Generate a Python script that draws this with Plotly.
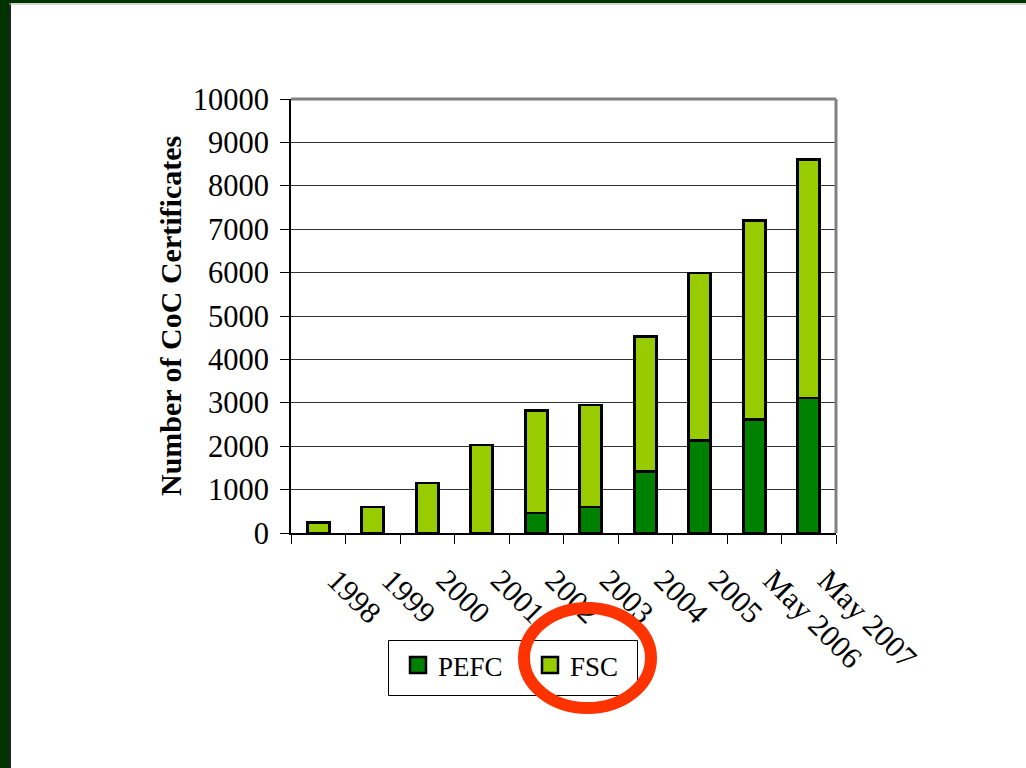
import plotly.graph_objects as go

# ---- data ----
categories = ["1998", "1999", "2000", "2001", "2002", "2003", "2004", "2005", "May 2006", "May 2007"]
pefc = [0, 0, 0, 0, 460, 600, 1410, 2140, 2610, 3110]
fsc = [250, 600, 1150, 2030, 2360, 2350, 3110, 3850, 4590, 5490]
series_names = ["PEFC", "FSC"]
series_colors = ["#008000", "#99CC00"]
y_title = "Number of CoC Certificates"
y_ticks = list(range(0, 10001, 1000))

W, H = 1026, 768
L, R, T, B = 291, 836, 99, 533  # plot area in pixels
PW, PH = R - L, B - T


def px(x):
    return (x - L) / PW


def py(y):
    return (B - y) / PH


FONT = "Liberation Serif, Times New Roman, serif"

fig = go.Figure()
for name, vals, col in zip(series_names, [pefc, fsc], series_colors):
    fig.add_trace(go.Bar(
        x=categories, y=vals, name=name,
        marker=dict(color=col, line=dict(color="black", width=2.8)),
        showlegend=False,
    ))
    # legend entries (square swatches)
    fig.add_trace(go.Scatter(
        x=[None], y=[None], mode="markers", name=name,
        marker=dict(symbol="square", size=16, color=col,
                    line=dict(color="black", width=2.5)),
    ))

shapes = []
# slide border (dark green)
shapes.append(dict(type="rect", xref="paper", yref="paper",
                   x0=px(-5), x1=px(9), y0=py(775), y1=py(-5),
                   fillcolor="#003300", line=dict(width=0), layer="above"))
shapes.append(dict(type="rect", xref="paper", yref="paper",
                   x0=px(9), x1=px(11), y0=py(775), y1=py(3),
                   fillcolor="#222222", line=dict(width=0), layer="above"))
shapes.append(dict(type="rect", xref="paper", yref="paper",
                   x0=px(-5), x1=px(1035), y0=py(3), y1=py(-5),
                   fillcolor="#003300", line=dict(width=0), layer="above"))
shapes.append(dict(type="line", xref="paper", yref="paper",
                   x0=px(9), x1=px(1035), y0=py(4), y1=py(4),
                   line=dict(color="#aaaaaa", width=1), layer="above"))
# plot area border top/right (gray)
shapes.append(dict(type="line", xref="paper", yref="paper",
                   x0=0, x1=1, y0=1, y1=1, line=dict(color="#808080", width=3)))
shapes.append(dict(type="line", xref="paper", yref="paper",
                   x0=1, x1=1, y0=0, y1=1, line=dict(color="#808080", width=3)))
# legend frame
shapes.append(dict(type="rect", xref="paper", yref="paper",
                   x0=px(388.5), x1=px(637.5), y0=py(695.5), y1=py(640.5),
                   line=dict(color="black", width=1), layer="above"))
# red highlight ellipse around FSC legend entry
shapes.append(dict(type="circle", xref="paper", yref="paper",
                   x0=px(524), x1=px(651), y0=py(708), y1=py(608),
                   line=dict(color="#FF3300", width=12), layer="above"))

fig.update_layout(
    width=W, height=H,
    margin=dict(l=L, r=W - R, t=T, b=H - B, pad=0),
    paper_bgcolor="white", plot_bgcolor="white",
    barmode="stack", bargap=0.6,
    font=dict(family=FONT, color="black"),
    shapes=shapes,
    showlegend=True,
    legend=dict(
        orientation="h", traceorder="normal",
        x=px(398), y=py(641), xanchor="left", yanchor="top",
        borderwidth=0, bgcolor="rgba(0,0,0,0)",
        font=dict(family=FONT, size=27, color="black"),
        entrywidth=87, itemwidth=30,
    ),
    annotations=[dict(
        text="<b>" + y_title + "</b>", textangle=-90,
        xref="paper", yref="paper", x=px(170), y=0.5,
        xanchor="center", yanchor="middle", showarrow=False,
        font=dict(family=FONT, size=30, color="black"),
    )],
)

fig.update_xaxes(
    type="category", showline=True, linecolor="black", linewidth=2,
    ticks="outside", tickson="boundaries", ticklen=9, tickcolor="black", tickwidth=1,
    tickangle=45, tickfont=dict(family=FONT, size=30.5, color="black"),
    ticklabelstandoff=15, ticklabelshift=18, showgrid=False, zeroline=False,
)
fig.update_yaxes(
    range=[0, 10000], tickvals=y_ticks, ticktext=[str(v) for v in y_ticks],
    showline=True, linecolor="black", linewidth=2,
    ticks="outside", ticklen=9, tickcolor="black", tickwidth=1,
    tickfont=dict(family=FONT, size=30.5, color="black"), ticklabelstandoff=5,
    showgrid=True, gridcolor="#333333", gridwidth=1, zeroline=False,
)

fig.write_html("out.html", config={"displayModeBar": False},
               post_script="document.body.style.margin='0';document.body.style.overflow='hidden';")
